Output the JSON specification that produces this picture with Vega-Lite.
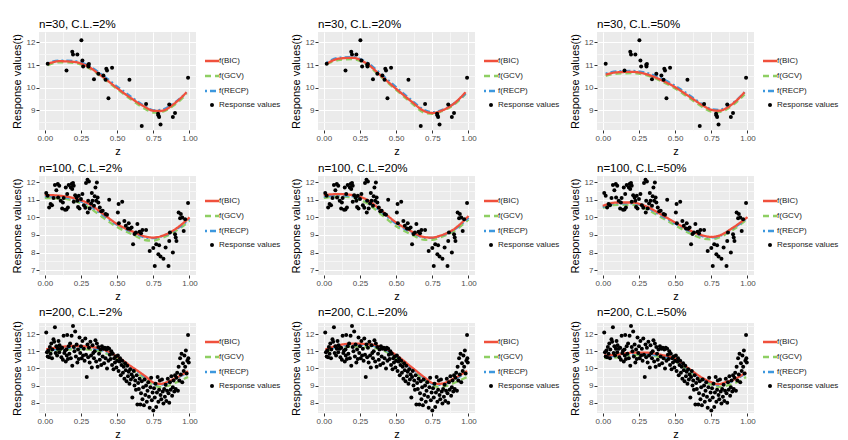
{
"$schema":"https://vega.github.io/schema/vega-lite/v6.json",
"padding":{"left":11,"top":18,"right":0,"bottom":0},
"background":"white",
"datasets":{
"pts":[
{"n":30,"z":0.02,"y":11.06},{"n":30,"z":0.253,"y":12.09},{"n":30,"z":0.19,"y":11.59},{"n":30,"z":0.195,"y":11.47},{"n":30,"z":0.225,"y":11.47},{"n":30,"z":0.26,"y":11.2},{"n":30,"z":0.15,"y":10.76},{"n":30,"z":0.265,"y":10.94},{"n":30,"z":0.3,"y":11.01},{"n":30,"z":0.302,"y":10.94},{"n":30,"z":0.34,"y":10.37},{"n":30,"z":0.37,"y":10.62},{"n":30,"z":0.405,"y":10.54},{"n":30,"z":0.42,"y":10.35},{"n":30,"z":0.425,"y":10.84},{"n":30,"z":0.43,"y":10.76},{"n":30,"z":0.465,"y":10.88},{"n":30,"z":0.44,"y":9.53},{"n":30,"z":0.585,"y":10.35},{"n":30,"z":0.7,"y":9.28},{"n":30,"z":0.67,"y":8.31},{"n":30,"z":0.785,"y":8.78},{"n":30,"z":0.79,"y":8.7},{"n":30,"z":0.783,"y":8.85},{"n":30,"z":0.8,"y":8.37},{"n":30,"z":0.86,"y":9.26},{"n":30,"z":0.885,"y":8.7},{"n":30,"z":0.9,"y":8.88},{"n":30,"z":0.99,"y":10.44},{"n":30,"z":0.305,"y":11.05},
{"n":100,"z":0.01,"y":11.39},{"n":100,"z":0.02,"y":11.24},{"n":100,"z":0.03,"y":10.57},{"n":100,"z":0.04,"y":10.76},{"n":100,"z":0.07,"y":11.85},{"n":100,"z":0.09,"y":11.9},{"n":100,"z":0.1,"y":11.81},{"n":100,"z":0.092,"y":11.14},{"n":100,"z":0.11,"y":10.95},{"n":100,"z":0.12,"y":10.51},{"n":100,"z":0.125,"y":10.85},{"n":100,"z":0.145,"y":11.71},{"n":100,"z":0.155,"y":11.33},{"n":100,"z":0.16,"y":10.57},{"n":100,"z":0.14,"y":10.44},{"n":100,"z":0.165,"y":11.85},{"n":100,"z":0.18,"y":11.71},{"n":100,"z":0.185,"y":11.9},{"n":100,"z":0.195,"y":11.96},{"n":100,"z":0.2,"y":11.81},{"n":100,"z":0.19,"y":11.62},{"n":100,"z":0.21,"y":11.27},{"n":100,"z":0.22,"y":11.14},{"n":100,"z":0.235,"y":11.24},{"n":100,"z":0.24,"y":10.51},{"n":100,"z":0.225,"y":10.95},{"n":100,"z":0.26,"y":11.33},{"n":100,"z":0.27,"y":10.7},{"n":100,"z":0.285,"y":11.96},{"n":100,"z":0.295,"y":12.15},{"n":100,"z":0.305,"y":12.04},{"n":100,"z":0.3,"y":10.95},{"n":100,"z":0.31,"y":10.51},{"n":100,"z":0.297,"y":10.28},{"n":100,"z":0.325,"y":11.39},{"n":100,"z":0.33,"y":10.95},{"n":100,"z":0.34,"y":10.66},{"n":100,"z":0.35,"y":11.71},{"n":100,"z":0.36,"y":11.99},{"n":100,"z":0.365,"y":11.14},{"n":100,"z":0.37,"y":10.85},{"n":100,"z":0.38,"y":10.57},{"n":100,"z":0.4,"y":10.38},{"n":100,"z":0.42,"y":10.19},{"n":100,"z":0.445,"y":11.01},{"n":100,"z":0.51,"y":10.76},{"n":100,"z":0.535,"y":10.9},{"n":100,"z":0.505,"y":10.28},{"n":100,"z":0.512,"y":9.67},{"n":100,"z":0.56,"y":9.52},{"n":100,"z":0.575,"y":9.37},{"n":100,"z":0.58,"y":9.67},{"n":100,"z":0.6,"y":9.42},{"n":100,"z":0.61,"y":8.47},{"n":100,"z":0.63,"y":9.14},{"n":100,"z":0.64,"y":9.62},{"n":100,"z":0.655,"y":9.18},{"n":100,"z":0.665,"y":9.1},{"n":100,"z":0.675,"y":9.29},{"n":100,"z":0.7,"y":9.29},{"n":100,"z":0.725,"y":8.09},{"n":100,"z":0.75,"y":8.26},{"n":100,"z":0.76,"y":7.23},{"n":100,"z":0.77,"y":8.47},{"n":100,"z":0.785,"y":7.9},{"n":100,"z":0.79,"y":8.42},{"n":100,"z":0.8,"y":7.78},{"n":100,"z":0.82,"y":7.65},{"n":100,"z":0.835,"y":8.28},{"n":100,"z":0.855,"y":7.23},{"n":100,"z":0.86,"y":8.66},{"n":100,"z":0.865,"y":9.14},{"n":100,"z":0.885,"y":8.0},{"n":100,"z":0.9,"y":9.04},{"n":100,"z":0.905,"y":8.85},{"n":100,"z":0.91,"y":8.66},{"n":100,"z":0.925,"y":10.28},{"n":100,"z":0.94,"y":10.19},{"n":100,"z":0.95,"y":10.0},{"n":100,"z":0.96,"y":9.23},{"n":100,"z":0.97,"y":9.9},{"n":100,"z":0.99,"y":10.82},{"n":100,"z":0.05,"y":10.7},{"n":100,"z":0.06,"y":11.1},{"n":100,"z":0.08,"y":11.55},{"n":100,"z":0.13,"y":11.1},{"n":100,"z":0.15,"y":10.45},{"n":100,"z":0.2,"y":10.9},{"n":100,"z":0.23,"y":10.6},{"n":100,"z":0.25,"y":11.05},{"n":100,"z":0.28,"y":10.55},{"n":100,"z":0.32,"y":10.8},{"n":100,"z":0.345,"y":11.2},{"n":100,"z":0.355,"y":10.95},{"n":100,"z":0.39,"y":10.35},{"n":100,"z":0.43,"y":10.15},{"n":100,"z":0.55,"y":9.8},{"n":100,"z":0.59,"y":9.35},{"n":100,"z":0.62,"y":9.05},{"n":100,"z":0.935,"y":9.95},
{"n":200,"z":0.01,"y":12.1},{"n":200,"z":0.015,"y":10.95},{"n":200,"z":0.02,"y":10.7},{"n":200,"z":0.025,"y":11.05},{"n":200,"z":0.03,"y":10.65},{"n":200,"z":0.035,"y":11.25},{"n":200,"z":0.04,"y":10.85},{"n":200,"z":0.045,"y":11.45},{"n":200,"z":0.05,"y":10.6},{"n":200,"z":0.052,"y":11.1},
{"n":200,"z":0.06,"y":11.7},{"n":200,"z":0.065,"y":11.55},{"n":200,"z":0.07,"y":12.4},{"n":200,"z":0.075,"y":10.9},{"n":200,"z":0.08,"y":11.3},{"n":200,"z":0.085,"y":10.75},{"n":200,"z":0.09,"y":11.15},{"n":200,"z":0.095,"y":11.6},{"n":200,"z":0.1,"y":10.95},{"n":200,"z":0.102,"y":11.35},
{"n":200,"z":0.11,"y":11.15},{"n":200,"z":0.115,"y":10.65},{"n":200,"z":0.12,"y":11.2},{"n":200,"z":0.125,"y":10.5},{"n":200,"z":0.13,"y":11.9},{"n":200,"z":0.135,"y":10.9},{"n":200,"z":0.14,"y":11.05},{"n":200,"z":0.145,"y":10.4},{"n":200,"z":0.15,"y":11.1},{"n":200,"z":0.152,"y":10.75},
{"n":200,"z":0.155,"y":11.95},{"n":200,"z":0.16,"y":10.55},{"n":200,"z":0.165,"y":11.3},{"n":200,"z":0.17,"y":10.85},{"n":200,"z":0.175,"y":11.45},{"n":200,"z":0.18,"y":10.6},{"n":200,"z":0.185,"y":11.9},{"n":200,"z":0.19,"y":10.15},{"n":200,"z":0.195,"y":12.48},{"n":200,"z":0.2,"y":11.25},
{"n":200,"z":0.205,"y":11.0},{"n":200,"z":0.21,"y":12.15},{"n":200,"z":0.215,"y":10.7},{"n":200,"z":0.22,"y":11.4},{"n":200,"z":0.225,"y":10.35},{"n":200,"z":0.23,"y":11.1},{"n":200,"z":0.235,"y":10.55},{"n":200,"z":0.24,"y":11.8},{"n":200,"z":0.245,"y":10.9},{"n":200,"z":0.25,"y":11.3},
{"n":200,"z":0.255,"y":10.6},{"n":200,"z":0.26,"y":11.6},{"n":200,"z":0.265,"y":10.75},{"n":200,"z":0.27,"y":11.15},{"n":200,"z":0.275,"y":10.45},{"n":200,"z":0.28,"y":11.75},{"n":200,"z":0.285,"y":10.8},{"n":200,"z":0.29,"y":9.5},{"n":200,"z":0.295,"y":11.4},{"n":200,"z":0.3,"y":10.65},
{"n":200,"z":0.305,"y":11.2},{"n":200,"z":0.31,"y":10.35},{"n":200,"z":0.315,"y":11.55},{"n":200,"z":0.32,"y":10.75},{"n":200,"z":0.325,"y":10.05},{"n":200,"z":0.33,"y":11.35},{"n":200,"z":0.335,"y":10.9},{"n":200,"z":0.34,"y":10.6},{"n":200,"z":0.345,"y":11.0},{"n":200,"z":0.35,"y":11.65},
{"n":200,"z":0.355,"y":10.4},{"n":200,"z":0.36,"y":11.45},{"n":200,"z":0.365,"y":10.1},{"n":200,"z":0.37,"y":11.25},{"n":200,"z":0.375,"y":10.85},{"n":200,"z":0.38,"y":10.5},{"n":200,"z":0.385,"y":11.1},{"n":200,"z":0.39,"y":10.2},{"n":200,"z":0.395,"y":11.3},{"n":200,"z":0.4,"y":10.7},
{"n":200,"z":0.405,"y":11.15},{"n":200,"z":0.41,"y":10.3},{"n":200,"z":0.415,"y":11.2},{"n":200,"z":0.42,"y":10.6},{"n":200,"z":0.425,"y":11.1},{"n":200,"z":0.43,"y":10.0},{"n":200,"z":0.435,"y":11.2},{"n":200,"z":0.44,"y":10.45},{"n":200,"z":0.445,"y":11.15},{"n":200,"z":0.45,"y":10.8},
{"n":200,"z":0.455,"y":10.55},{"n":200,"z":0.46,"y":11.0},{"n":200,"z":0.465,"y":10.2},{"n":200,"z":0.47,"y":10.85},{"n":200,"z":0.475,"y":9.95},{"n":200,"z":0.48,"y":10.6},{"n":200,"z":0.485,"y":10.35},{"n":200,"z":0.49,"y":10.7},{"n":200,"z":0.495,"y":10.05},{"n":200,"z":0.5,"y":10.45},
{"n":200,"z":0.505,"y":10.75},{"n":200,"z":0.51,"y":9.85},{"n":200,"z":0.515,"y":10.4},{"n":200,"z":0.52,"y":10.6},{"n":200,"z":0.525,"y":9.6},{"n":200,"z":0.53,"y":10.2},{"n":200,"z":0.535,"y":10.45},{"n":200,"z":0.54,"y":9.75},{"n":200,"z":0.545,"y":10.1},{"n":200,"z":0.55,"y":9.4},
{"n":200,"z":0.555,"y":10.3},{"n":200,"z":0.56,"y":9.9},{"n":200,"z":0.565,"y":9.25},{"n":200,"z":0.57,"y":10.15},{"n":200,"z":0.575,"y":9.55},{"n":200,"z":0.58,"y":9.8},{"n":200,"z":0.585,"y":9.1},{"n":200,"z":0.59,"y":9.95},{"n":200,"z":0.595,"y":9.35},{"n":200,"z":0.6,"y":9.65},
{"n":200,"z":0.605,"y":8.3},{"n":200,"z":0.61,"y":9.5},{"n":200,"z":0.615,"y":9.85},{"n":200,"z":0.62,"y":9.0},{"n":200,"z":0.625,"y":9.3},{"n":200,"z":0.63,"y":8.75},{"n":200,"z":0.635,"y":9.6},{"n":200,"z":0.64,"y":7.9},{"n":200,"z":0.645,"y":9.15},{"n":200,"z":0.65,"y":8.8},
{"n":200,"z":0.655,"y":9.4},{"n":200,"z":0.66,"y":7.9},{"n":200,"z":0.665,"y":8.55},{"n":200,"z":0.67,"y":9.25},{"n":200,"z":0.675,"y":8.2},{"n":200,"z":0.68,"y":8.9},{"n":200,"z":0.685,"y":7.85},{"n":200,"z":0.69,"y":9.35},{"n":200,"z":0.695,"y":8.45},{"n":200,"z":0.7,"y":9.0},
{"n":200,"z":0.705,"y":8.05},{"n":200,"z":0.71,"y":8.7},{"n":200,"z":0.715,"y":9.2},{"n":200,"z":0.72,"y":8.35},{"n":200,"z":0.725,"y":7.7},{"n":200,"z":0.73,"y":8.9},{"n":200,"z":0.735,"y":9.45},{"n":200,"z":0.74,"y":8.15},{"n":200,"z":0.745,"y":8.6},{"n":200,"z":0.75,"y":7.55},
{"n":200,"z":0.755,"y":8.85},{"n":200,"z":0.76,"y":8.3},{"n":200,"z":0.765,"y":9.1},{"n":200,"z":0.77,"y":7.75},{"n":200,"z":0.775,"y":8.6},{"n":200,"z":0.78,"y":9.5},{"n":200,"z":0.785,"y":8.05},{"n":200,"z":0.79,"y":8.75},{"n":200,"z":0.795,"y":9.3},{"n":200,"z":0.8,"y":8.45},
{"n":200,"z":0.805,"y":8.2},{"n":200,"z":0.81,"y":9.35},{"n":200,"z":0.815,"y":8.65},{"n":200,"z":0.82,"y":7.95},{"n":200,"z":0.825,"y":8.8},{"n":200,"z":0.83,"y":8.35},{"n":200,"z":0.835,"y":9.05},{"n":200,"z":0.84,"y":8.1},{"n":200,"z":0.845,"y":8.7},{"n":200,"z":0.85,"y":9.4},
{"n":200,"z":0.855,"y":8.55},{"n":200,"z":0.86,"y":8.0},{"n":200,"z":0.865,"y":9.2},{"n":200,"z":0.87,"y":8.75},{"n":200,"z":0.875,"y":9.55},{"n":200,"z":0.88,"y":8.4},{"n":200,"z":0.885,"y":8.9},{"n":200,"z":0.89,"y":9.3},{"n":200,"z":0.895,"y":8.65},{"n":200,"z":0.9,"y":9.6},
{"n":200,"z":0.905,"y":8.8},{"n":200,"z":0.91,"y":9.45},{"n":200,"z":0.915,"y":9.75},{"n":200,"z":0.92,"y":8.7},{"n":200,"z":0.925,"y":10.1},{"n":200,"z":0.93,"y":9.3},{"n":200,"z":0.935,"y":10.6},{"n":200,"z":0.94,"y":9.65},{"n":200,"z":0.945,"y":10.85},{"n":200,"z":0.95,"y":9.2},
{"n":200,"z":0.955,"y":10.3},{"n":200,"z":0.96,"y":9.85},{"n":200,"z":0.965,"y":10.75},{"n":200,"z":0.97,"y":10.1},{"n":200,"z":0.975,"y":11.05},{"n":200,"z":0.98,"y":9.7},{"n":200,"z":0.985,"y":10.45},{"n":200,"z":0.99,"y":11.95},{"n":200,"z":0.992,"y":10.6},{"n":200,"z":0.995,"y":10.35}
],
"fits":[
{"p":"a","z":0.02,"f(BIC)":11.05,"f(GCV)":11.0,"f(RECP)":11.08},{"p":"a","z":0.1,"f(BIC)":11.17,"f(GCV)":11.12,"f(RECP)":11.2},{"p":"a","z":0.2,"f(BIC)":11.14,"f(GCV)":11.1,"f(RECP)":11.18},{"p":"a","z":0.3,"f(BIC)":10.93,"f(GCV)":10.88,"f(RECP)":10.98},{"p":"a","z":0.4,"f(BIC)":10.48,"f(GCV)":10.44,"f(RECP)":10.55},{"p":"a","z":0.5,"f(BIC)":9.98,"f(GCV)":9.94,"f(RECP)":10.05},{"p":"a","z":0.6,"f(BIC)":9.52,"f(GCV)":9.46,"f(RECP)":9.58},{"p":"a","z":0.7,"f(BIC)":9.12,"f(GCV)":9.04,"f(RECP)":9.15},{"p":"a","z":0.75,"f(BIC)":8.98,"f(GCV)":8.9,"f(RECP)":9.0},{"p":"a","z":0.8,"f(BIC)":8.97,"f(GCV)":8.92,"f(RECP)":9.02},{"p":"a","z":0.9,"f(BIC)":9.32,"f(GCV)":9.25,"f(RECP)":9.35},{"p":"a","z":0.98,"f(BIC)":9.8,"f(GCV)":9.72,"f(RECP)":9.78},
{"p":"b","z":0.02,"f(BIC)":11.05,"f(GCV)":11.05,"f(RECP)":11.1},{"p":"b","z":0.1,"f(BIC)":11.28,"f(GCV)":11.22,"f(RECP)":11.32},{"p":"b","z":0.2,"f(BIC)":11.32,"f(GCV)":11.26,"f(RECP)":11.35},{"p":"b","z":0.3,"f(BIC)":11.05,"f(GCV)":11.0,"f(RECP)":11.1},{"p":"b","z":0.4,"f(BIC)":10.5,"f(GCV)":10.45,"f(RECP)":10.58},{"p":"b","z":0.5,"f(BIC)":9.95,"f(GCV)":9.9,"f(RECP)":10.02},{"p":"b","z":0.6,"f(BIC)":9.42,"f(GCV)":9.36,"f(RECP)":9.48},{"p":"b","z":0.7,"f(BIC)":8.95,"f(GCV)":8.88,"f(RECP)":9.0},{"p":"b","z":0.75,"f(BIC)":8.88,"f(GCV)":8.84,"f(RECP)":8.92},{"p":"b","z":0.8,"f(BIC)":8.95,"f(GCV)":8.92,"f(RECP)":8.98},{"p":"b","z":0.9,"f(BIC)":9.3,"f(GCV)":9.25,"f(RECP)":9.3},{"p":"b","z":0.98,"f(BIC)":9.8,"f(GCV)":9.72,"f(RECP)":9.75},
{"p":"c","z":0.02,"f(BIC)":10.58,"f(GCV)":10.52,"f(RECP)":10.62},{"p":"c","z":0.1,"f(BIC)":10.68,"f(GCV)":10.62,"f(RECP)":10.72},{"p":"c","z":0.2,"f(BIC)":10.7,"f(GCV)":10.64,"f(RECP)":10.74},{"p":"c","z":0.3,"f(BIC)":10.6,"f(GCV)":10.55,"f(RECP)":10.66},{"p":"c","z":0.4,"f(BIC)":10.35,"f(GCV)":10.3,"f(RECP)":10.42},{"p":"c","z":0.5,"f(BIC)":10.02,"f(GCV)":9.96,"f(RECP)":10.08},{"p":"c","z":0.6,"f(BIC)":9.6,"f(GCV)":9.53,"f(RECP)":9.66},{"p":"c","z":0.7,"f(BIC)":9.18,"f(GCV)":9.1,"f(RECP)":9.22},{"p":"c","z":0.75,"f(BIC)":9.02,"f(GCV)":8.94,"f(RECP)":9.05},{"p":"c","z":0.8,"f(BIC)":8.98,"f(GCV)":8.92,"f(RECP)":9.02},{"p":"c","z":0.9,"f(BIC)":9.3,"f(GCV)":9.24,"f(RECP)":9.32},{"p":"c","z":0.98,"f(BIC)":9.8,"f(GCV)":9.7,"f(RECP)":9.8},
{"p":"d","z":0.0,"f(BIC)":11.28,"f(GCV)":11.1,"f(RECP)":11.2},{"p":"d","z":0.1,"f(BIC)":11.24,"f(GCV)":11.08,"f(RECP)":11.18},{"p":"d","z":0.2,"f(BIC)":11.1,"f(GCV)":10.95,"f(RECP)":11.05},{"p":"d","z":0.3,"f(BIC)":10.8,"f(GCV)":10.6,"f(RECP)":10.72},{"p":"d","z":0.4,"f(BIC)":10.22,"f(GCV)":10.0,"f(RECP)":10.15},{"p":"d","z":0.5,"f(BIC)":9.62,"f(GCV)":9.45,"f(RECP)":9.58},{"p":"d","z":0.6,"f(BIC)":9.22,"f(GCV)":9.05,"f(RECP)":9.18},{"p":"d","z":0.7,"f(BIC)":8.9,"f(GCV)":8.7,"f(RECP)":8.85},{"p":"d","z":0.75,"f(BIC)":8.85,"f(GCV)":8.68,"f(RECP)":8.82},{"p":"d","z":0.8,"f(BIC)":8.92,"f(GCV)":8.8,"f(RECP)":8.9},{"p":"d","z":0.9,"f(BIC)":9.32,"f(GCV)":9.2,"f(RECP)":9.28},{"p":"d","z":1.0,"f(BIC)":10.0,"f(GCV)":9.8,"f(RECP)":9.9},
{"p":"e","z":0.0,"f(BIC)":11.27,"f(GCV)":11.1,"f(RECP)":11.18},{"p":"e","z":0.1,"f(BIC)":11.33,"f(GCV)":11.2,"f(RECP)":11.26},{"p":"e","z":0.2,"f(BIC)":11.27,"f(GCV)":11.12,"f(RECP)":11.2},{"p":"e","z":0.3,"f(BIC)":11.0,"f(GCV)":10.8,"f(RECP)":10.92},{"p":"e","z":0.4,"f(BIC)":10.38,"f(GCV)":10.15,"f(RECP)":10.3},{"p":"e","z":0.5,"f(BIC)":9.71,"f(GCV)":9.5,"f(RECP)":9.64},{"p":"e","z":0.6,"f(BIC)":9.23,"f(GCV)":9.05,"f(RECP)":9.18},{"p":"e","z":0.7,"f(BIC)":8.87,"f(GCV)":8.72,"f(RECP)":8.84},{"p":"e","z":0.75,"f(BIC)":8.85,"f(GCV)":8.72,"f(RECP)":8.83},{"p":"e","z":0.8,"f(BIC)":8.95,"f(GCV)":8.85,"f(RECP)":8.93},{"p":"e","z":0.9,"f(BIC)":9.33,"f(GCV)":9.22,"f(RECP)":9.3},{"p":"e","z":1.0,"f(BIC)":10.08,"f(GCV)":9.88,"f(RECP)":9.98},
{"p":"f","z":0.0,"f(BIC)":10.66,"f(GCV)":10.55,"f(RECP)":10.6},{"p":"f","z":0.1,"f(BIC)":10.85,"f(GCV)":10.72,"f(RECP)":10.8},{"p":"f","z":0.2,"f(BIC)":10.85,"f(GCV)":10.72,"f(RECP)":10.8},{"p":"f","z":0.3,"f(BIC)":10.63,"f(GCV)":10.48,"f(RECP)":10.58},{"p":"f","z":0.4,"f(BIC)":10.19,"f(GCV)":10.02,"f(RECP)":10.12},{"p":"f","z":0.5,"f(BIC)":9.71,"f(GCV)":9.55,"f(RECP)":9.65},{"p":"f","z":0.6,"f(BIC)":9.27,"f(GCV)":9.1,"f(RECP)":9.22},{"p":"f","z":0.7,"f(BIC)":8.95,"f(GCV)":8.78,"f(RECP)":8.9},{"p":"f","z":0.75,"f(BIC)":8.89,"f(GCV)":8.75,"f(RECP)":8.86},{"p":"f","z":0.8,"f(BIC)":8.95,"f(GCV)":8.85,"f(RECP)":8.93},{"p":"f","z":0.9,"f(BIC)":9.42,"f(GCV)":9.3,"f(RECP)":9.38},{"p":"f","z":1.0,"f(BIC)":10.02,"f(GCV)":9.9,"f(RECP)":9.98},
{"p":"g","z":0.01,"f(BIC)":11.12,"f(GCV)":10.9,"f(RECP)":11.0},{"p":"g","z":0.1,"f(BIC)":11.24,"f(GCV)":11.05,"f(RECP)":11.15},{"p":"g","z":0.2,"f(BIC)":11.31,"f(GCV)":11.12,"f(RECP)":11.22},{"p":"g","z":0.3,"f(BIC)":11.27,"f(GCV)":11.1,"f(RECP)":11.2},{"p":"g","z":0.4,"f(BIC)":11.12,"f(GCV)":10.95,"f(RECP)":11.05},{"p":"g","z":0.5,"f(BIC)":10.69,"f(GCV)":10.55,"f(RECP)":10.65},{"p":"g","z":0.6,"f(BIC)":10.1,"f(GCV)":9.95,"f(RECP)":10.05},{"p":"g","z":0.7,"f(BIC)":9.51,"f(GCV)":9.35,"f(RECP)":9.45},{"p":"g","z":0.75,"f(BIC)":9.18,"f(GCV)":9.02,"f(RECP)":9.12},{"p":"g","z":0.8,"f(BIC)":9.1,"f(GCV)":8.92,"f(RECP)":9.05},{"p":"g","z":0.85,"f(BIC)":9.22,"f(GCV)":8.98,"f(RECP)":9.15},{"p":"g","z":0.9,"f(BIC)":9.42,"f(GCV)":9.15,"f(RECP)":9.38},{"p":"g","z":0.99,"f(BIC)":9.84,"f(GCV)":9.5,"f(RECP)":9.75},
{"p":"h","z":0.01,"f(BIC)":11.1,"f(GCV)":10.95,"f(RECP)":11.02},{"p":"h","z":0.1,"f(BIC)":11.35,"f(GCV)":11.2,"f(RECP)":11.28},{"p":"h","z":0.2,"f(BIC)":11.45,"f(GCV)":11.28,"f(RECP)":11.38},{"p":"h","z":0.3,"f(BIC)":11.42,"f(GCV)":11.25,"f(RECP)":11.35},{"p":"h","z":0.4,"f(BIC)":11.25,"f(GCV)":11.08,"f(RECP)":11.18},{"p":"h","z":0.5,"f(BIC)":10.78,"f(GCV)":10.62,"f(RECP)":10.72},{"p":"h","z":0.6,"f(BIC)":10.12,"f(GCV)":9.98,"f(RECP)":10.06},{"p":"h","z":0.7,"f(BIC)":9.45,"f(GCV)":9.3,"f(RECP)":9.4},{"p":"h","z":0.75,"f(BIC)":9.15,"f(GCV)":9.0,"f(RECP)":9.1},{"p":"h","z":0.8,"f(BIC)":9.1,"f(GCV)":8.92,"f(RECP)":9.04},{"p":"h","z":0.85,"f(BIC)":9.2,"f(GCV)":8.98,"f(RECP)":9.14},{"p":"h","z":0.9,"f(BIC)":9.42,"f(GCV)":9.15,"f(RECP)":9.36},{"p":"h","z":0.99,"f(BIC)":9.85,"f(GCV)":9.5,"f(RECP)":9.75},
{"p":"i","z":0.01,"f(BIC)":10.76,"f(GCV)":10.6,"f(RECP)":10.7},{"p":"i","z":0.1,"f(BIC)":10.8,"f(GCV)":10.65,"f(RECP)":10.72},{"p":"i","z":0.2,"f(BIC)":10.92,"f(GCV)":10.78,"f(RECP)":10.85},{"p":"i","z":0.3,"f(BIC)":10.92,"f(GCV)":10.78,"f(RECP)":10.85},{"p":"i","z":0.4,"f(BIC)":10.8,"f(GCV)":10.65,"f(RECP)":10.72},{"p":"i","z":0.5,"f(BIC)":10.57,"f(GCV)":10.42,"f(RECP)":10.5},{"p":"i","z":0.6,"f(BIC)":9.96,"f(GCV)":9.82,"f(RECP)":9.9},{"p":"i","z":0.7,"f(BIC)":9.39,"f(GCV)":9.25,"f(RECP)":9.33},{"p":"i","z":0.75,"f(BIC)":9.2,"f(GCV)":9.05,"f(RECP)":9.15},{"p":"i","z":0.8,"f(BIC)":9.08,"f(GCV)":8.92,"f(RECP)":9.03},{"p":"i","z":0.85,"f(BIC)":9.2,"f(GCV)":8.98,"f(RECP)":9.13},{"p":"i","z":0.9,"f(BIC)":9.33,"f(GCV)":9.1,"f(RECP)":9.28},{"p":"i","z":0.99,"f(BIC)":9.78,"f(GCV)":9.5,"f(RECP)":9.72}
]
},
"spacing":6,
"vconcat":[
{"spacing":9,"hconcat":[
{"title":"n=30, C.L.=2%","width":157,"height":98,
"encoding":{"x":{"field":"z","type":"quantitative","scale":{"domain":[-0.04,1.045],"nice":false},"axis":{"title":"z","grid":true,"labelOverlap":false,"values":[0,0.125,0.25,0.375,0.5,0.625,0.75,0.875,1],"labelExpr":"datum.value % 0.25 === 0 ? format(datum.value,'.2f') : ''","tickOpacity":{"condition":{"test":"datum.value % 0.25 !== 0","value":0},"value":1},"gridColor":{"condition":{"test":"datum.value % 0.25 !== 0","value":"#F6F6F6"},"value":"#FFFFFF"}}},"y":{"field":"y","type":"quantitative","scale":{"domain":[8.13,12.46],"nice":false,"zero":false},"axis":{"title":"Response values(t)","grid":true,"labelOverlap":false,"values":[8.5,9,9.5,10,10.5,11,11.5,12],"labelExpr":"datum.value % 1 === 0 ? format(datum.value,'d') : ''","tickOpacity":{"condition":{"test":"datum.value % 1 !== 0","value":0},"value":1},"gridColor":{"condition":{"test":"datum.value % 1 !== 0","value":"#F6F6F6"},"value":"#FFFFFF"}}}},
"layer":[
{"data":{"name":"fits"},"transform":[{"filter":"datum.p==='a'"},{"fold":["f(GCV)","f(RECP)","f(BIC)"],"as":["curve","y"]}],"mark":{"type":"line","interpolate":"monotone","strokeWidth":2.3},"encoding":{"color":{"field":"curve","type":"nominal","scale":{"domain":["f(BIC)","f(GCV)","f(RECP)","Response values"],"range":["#F0503C","#8ECF63","#3D98DE","#000000"]},"legend":{"orient":"none","legendX":169,"legendY":25,"symbolType":"stroke","encode":{"symbols":{"update":{"shape":{"signal":"datum.value === 'Response values' ? 'circle' : 'stroke'"},"size":{"signal":"datum.value === 'Response values' ? 16 : 196"},"fill":{"signal":"datum.value === 'Response values' ? '#000000' : 'transparent'"},"strokeWidth":{"signal":"datum.value === 'Response values' ? 0 : 2.3"},"strokeDash":{"signal":"datum.value === 'f(GCV)' ? [6,4] : datum.value === 'f(RECP)' ? [2,3,6,3] : [1,0]"}}}}}},"strokeDash":{"field":"curve","type":"nominal","scale":{"domain":["f(BIC)","f(GCV)","f(RECP)"],"range":[[1,0],[6,4],[2,3,6,3]]},"legend":null}}},
{"data":{"name":"pts"},"transform":[{"filter":"datum.n===30"}],"mark":{"type":"circle","size":16,"opacity":1},"encoding":{"color":{"datum":"Response values"}}}
]},
{"title":"n=30, C.L.=20%","width":157,"height":98,
"encoding":{"x":{"field":"z","type":"quantitative","scale":{"domain":[-0.04,1.045],"nice":false},"axis":{"title":"z","grid":true,"labelOverlap":false,"values":[0,0.125,0.25,0.375,0.5,0.625,0.75,0.875,1],"labelExpr":"datum.value % 0.25 === 0 ? format(datum.value,'.2f') : ''","tickOpacity":{"condition":{"test":"datum.value % 0.25 !== 0","value":0},"value":1},"gridColor":{"condition":{"test":"datum.value % 0.25 !== 0","value":"#F6F6F6"},"value":"#FFFFFF"}}},"y":{"field":"y","type":"quantitative","scale":{"domain":[8.13,12.46],"nice":false,"zero":false},"axis":{"title":"Response values(t)","grid":true,"labelOverlap":false,"values":[8.5,9,9.5,10,10.5,11,11.5,12],"labelExpr":"datum.value % 1 === 0 ? format(datum.value,'d') : ''","tickOpacity":{"condition":{"test":"datum.value % 1 !== 0","value":0},"value":1},"gridColor":{"condition":{"test":"datum.value % 1 !== 0","value":"#F6F6F6"},"value":"#FFFFFF"}}}},
"layer":[
{"data":{"name":"fits"},"transform":[{"filter":"datum.p==='b'"},{"fold":["f(GCV)","f(RECP)","f(BIC)"],"as":["curve","y"]}],"mark":{"type":"line","interpolate":"monotone","strokeWidth":2.3},"encoding":{"color":{"field":"curve","type":"nominal","scale":{"domain":["f(BIC)","f(GCV)","f(RECP)","Response values"],"range":["#F0503C","#8ECF63","#3D98DE","#000000"]},"legend":{"orient":"none","legendX":169,"legendY":25,"symbolType":"stroke","encode":{"symbols":{"update":{"shape":{"signal":"datum.value === 'Response values' ? 'circle' : 'stroke'"},"size":{"signal":"datum.value === 'Response values' ? 16 : 196"},"fill":{"signal":"datum.value === 'Response values' ? '#000000' : 'transparent'"},"strokeWidth":{"signal":"datum.value === 'Response values' ? 0 : 2.3"},"strokeDash":{"signal":"datum.value === 'f(GCV)' ? [6,4] : datum.value === 'f(RECP)' ? [2,3,6,3] : [1,0]"}}}}}},"strokeDash":{"field":"curve","type":"nominal","scale":{"domain":["f(BIC)","f(GCV)","f(RECP)"],"range":[[1,0],[6,4],[2,3,6,3]]},"legend":null}}},
{"data":{"name":"pts"},"transform":[{"filter":"datum.n===30"}],"mark":{"type":"circle","size":16,"opacity":1},"encoding":{"color":{"datum":"Response values"}}}
]},
{"title":"n=30, C.L.=50%","width":157,"height":98,
"encoding":{"x":{"field":"z","type":"quantitative","scale":{"domain":[-0.04,1.045],"nice":false},"axis":{"title":"z","grid":true,"labelOverlap":false,"values":[0,0.125,0.25,0.375,0.5,0.625,0.75,0.875,1],"labelExpr":"datum.value % 0.25 === 0 ? format(datum.value,'.2f') : ''","tickOpacity":{"condition":{"test":"datum.value % 0.25 !== 0","value":0},"value":1},"gridColor":{"condition":{"test":"datum.value % 0.25 !== 0","value":"#F6F6F6"},"value":"#FFFFFF"}}},"y":{"field":"y","type":"quantitative","scale":{"domain":[8.13,12.46],"nice":false,"zero":false},"axis":{"title":"Response values(t)","grid":true,"labelOverlap":false,"values":[8.5,9,9.5,10,10.5,11,11.5,12],"labelExpr":"datum.value % 1 === 0 ? format(datum.value,'d') : ''","tickOpacity":{"condition":{"test":"datum.value % 1 !== 0","value":0},"value":1},"gridColor":{"condition":{"test":"datum.value % 1 !== 0","value":"#F6F6F6"},"value":"#FFFFFF"}}}},
"layer":[
{"data":{"name":"fits"},"transform":[{"filter":"datum.p==='c'"},{"fold":["f(GCV)","f(RECP)","f(BIC)"],"as":["curve","y"]}],"mark":{"type":"line","interpolate":"monotone","strokeWidth":2.3},"encoding":{"color":{"field":"curve","type":"nominal","scale":{"domain":["f(BIC)","f(GCV)","f(RECP)","Response values"],"range":["#F0503C","#8ECF63","#3D98DE","#000000"]},"legend":{"orient":"none","legendX":169,"legendY":25,"symbolType":"stroke","encode":{"symbols":{"update":{"shape":{"signal":"datum.value === 'Response values' ? 'circle' : 'stroke'"},"size":{"signal":"datum.value === 'Response values' ? 16 : 196"},"fill":{"signal":"datum.value === 'Response values' ? '#000000' : 'transparent'"},"strokeWidth":{"signal":"datum.value === 'Response values' ? 0 : 2.3"},"strokeDash":{"signal":"datum.value === 'f(GCV)' ? [6,4] : datum.value === 'f(RECP)' ? [2,3,6,3] : [1,0]"}}}}}},"strokeDash":{"field":"curve","type":"nominal","scale":{"domain":["f(BIC)","f(GCV)","f(RECP)"],"range":[[1,0],[6,4],[2,3,6,3]]},"legend":null}}},
{"data":{"name":"pts"},"transform":[{"filter":"datum.n===30"}],"mark":{"type":"circle","size":16,"opacity":1},"encoding":{"color":{"datum":"Response values"}}}
]}
],"resolve":{"scale":{"x":"independent","y":"independent","color":"independent","strokeDash":"independent"},"legend":{"color":"independent"}}},
{"spacing":9,"hconcat":[
{"title":"n=100, C.L.=2%","width":157,"height":99,
"encoding":{"x":{"field":"z","type":"quantitative","scale":{"domain":[-0.04,1.045],"nice":false},"axis":{"title":"z","grid":true,"labelOverlap":false,"values":[0,0.125,0.25,0.375,0.5,0.625,0.75,0.875,1],"labelExpr":"datum.value % 0.25 === 0 ? format(datum.value,'.2f') : ''","tickOpacity":{"condition":{"test":"datum.value % 0.25 !== 0","value":0},"value":1},"gridColor":{"condition":{"test":"datum.value % 0.25 !== 0","value":"#F6F6F6"},"value":"#FFFFFF"}}},"y":{"field":"y","type":"quantitative","scale":{"domain":[6.72,12.36],"nice":false,"zero":false},"axis":{"title":"Response values(t)","grid":true,"labelOverlap":false,"values":[7,7.5,8,8.5,9,9.5,10,10.5,11,11.5,12],"labelExpr":"datum.value % 1 === 0 ? format(datum.value,'d') : ''","tickOpacity":{"condition":{"test":"datum.value % 1 !== 0","value":0},"value":1},"gridColor":{"condition":{"test":"datum.value % 1 !== 0","value":"#F6F6F6"},"value":"#FFFFFF"}}}},
"layer":[
{"data":{"name":"fits"},"transform":[{"filter":"datum.p==='d'"},{"fold":["f(GCV)","f(RECP)","f(BIC)"],"as":["curve","y"]}],"mark":{"type":"line","interpolate":"monotone","strokeWidth":2.3},"encoding":{"color":{"field":"curve","type":"nominal","scale":{"domain":["f(BIC)","f(GCV)","f(RECP)","Response values"],"range":["#F0503C","#8ECF63","#3D98DE","#000000"]},"legend":{"orient":"none","legendX":169,"legendY":21,"symbolType":"stroke","encode":{"symbols":{"update":{"shape":{"signal":"datum.value === 'Response values' ? 'circle' : 'stroke'"},"size":{"signal":"datum.value === 'Response values' ? 16 : 196"},"fill":{"signal":"datum.value === 'Response values' ? '#000000' : 'transparent'"},"strokeWidth":{"signal":"datum.value === 'Response values' ? 0 : 2.3"},"strokeDash":{"signal":"datum.value === 'f(GCV)' ? [6,4] : datum.value === 'f(RECP)' ? [2,3,6,3] : [1,0]"}}}}}},"strokeDash":{"field":"curve","type":"nominal","scale":{"domain":["f(BIC)","f(GCV)","f(RECP)"],"range":[[1,0],[6,4],[2,3,6,3]]},"legend":null}}},
{"data":{"name":"pts"},"transform":[{"filter":"datum.n===100"}],"mark":{"type":"circle","size":16,"opacity":1},"encoding":{"color":{"datum":"Response values"}}}
]},
{"title":"n=100, C.L.=20%","width":157,"height":99,
"encoding":{"x":{"field":"z","type":"quantitative","scale":{"domain":[-0.04,1.045],"nice":false},"axis":{"title":"z","grid":true,"labelOverlap":false,"values":[0,0.125,0.25,0.375,0.5,0.625,0.75,0.875,1],"labelExpr":"datum.value % 0.25 === 0 ? format(datum.value,'.2f') : ''","tickOpacity":{"condition":{"test":"datum.value % 0.25 !== 0","value":0},"value":1},"gridColor":{"condition":{"test":"datum.value % 0.25 !== 0","value":"#F6F6F6"},"value":"#FFFFFF"}}},"y":{"field":"y","type":"quantitative","scale":{"domain":[6.72,12.36],"nice":false,"zero":false},"axis":{"title":"Response values(t)","grid":true,"labelOverlap":false,"values":[7,7.5,8,8.5,9,9.5,10,10.5,11,11.5,12],"labelExpr":"datum.value % 1 === 0 ? format(datum.value,'d') : ''","tickOpacity":{"condition":{"test":"datum.value % 1 !== 0","value":0},"value":1},"gridColor":{"condition":{"test":"datum.value % 1 !== 0","value":"#F6F6F6"},"value":"#FFFFFF"}}}},
"layer":[
{"data":{"name":"fits"},"transform":[{"filter":"datum.p==='e'"},{"fold":["f(GCV)","f(RECP)","f(BIC)"],"as":["curve","y"]}],"mark":{"type":"line","interpolate":"monotone","strokeWidth":2.3},"encoding":{"color":{"field":"curve","type":"nominal","scale":{"domain":["f(BIC)","f(GCV)","f(RECP)","Response values"],"range":["#F0503C","#8ECF63","#3D98DE","#000000"]},"legend":{"orient":"none","legendX":169,"legendY":21,"symbolType":"stroke","encode":{"symbols":{"update":{"shape":{"signal":"datum.value === 'Response values' ? 'circle' : 'stroke'"},"size":{"signal":"datum.value === 'Response values' ? 16 : 196"},"fill":{"signal":"datum.value === 'Response values' ? '#000000' : 'transparent'"},"strokeWidth":{"signal":"datum.value === 'Response values' ? 0 : 2.3"},"strokeDash":{"signal":"datum.value === 'f(GCV)' ? [6,4] : datum.value === 'f(RECP)' ? [2,3,6,3] : [1,0]"}}}}}},"strokeDash":{"field":"curve","type":"nominal","scale":{"domain":["f(BIC)","f(GCV)","f(RECP)"],"range":[[1,0],[6,4],[2,3,6,3]]},"legend":null}}},
{"data":{"name":"pts"},"transform":[{"filter":"datum.n===100"}],"mark":{"type":"circle","size":16,"opacity":1},"encoding":{"color":{"datum":"Response values"}}}
]},
{"title":"n=100, C.L.=50%","width":157,"height":99,
"encoding":{"x":{"field":"z","type":"quantitative","scale":{"domain":[-0.04,1.045],"nice":false},"axis":{"title":"z","grid":true,"labelOverlap":false,"values":[0,0.125,0.25,0.375,0.5,0.625,0.75,0.875,1],"labelExpr":"datum.value % 0.25 === 0 ? format(datum.value,'.2f') : ''","tickOpacity":{"condition":{"test":"datum.value % 0.25 !== 0","value":0},"value":1},"gridColor":{"condition":{"test":"datum.value % 0.25 !== 0","value":"#F6F6F6"},"value":"#FFFFFF"}}},"y":{"field":"y","type":"quantitative","scale":{"domain":[6.72,12.36],"nice":false,"zero":false},"axis":{"title":"Response values(t)","grid":true,"labelOverlap":false,"values":[7,7.5,8,8.5,9,9.5,10,10.5,11,11.5,12],"labelExpr":"datum.value % 1 === 0 ? format(datum.value,'d') : ''","tickOpacity":{"condition":{"test":"datum.value % 1 !== 0","value":0},"value":1},"gridColor":{"condition":{"test":"datum.value % 1 !== 0","value":"#F6F6F6"},"value":"#FFFFFF"}}}},
"layer":[
{"data":{"name":"fits"},"transform":[{"filter":"datum.p==='f'"},{"fold":["f(GCV)","f(RECP)","f(BIC)"],"as":["curve","y"]}],"mark":{"type":"line","interpolate":"monotone","strokeWidth":2.3},"encoding":{"color":{"field":"curve","type":"nominal","scale":{"domain":["f(BIC)","f(GCV)","f(RECP)","Response values"],"range":["#F0503C","#8ECF63","#3D98DE","#000000"]},"legend":{"orient":"none","legendX":169,"legendY":21,"symbolType":"stroke","encode":{"symbols":{"update":{"shape":{"signal":"datum.value === 'Response values' ? 'circle' : 'stroke'"},"size":{"signal":"datum.value === 'Response values' ? 16 : 196"},"fill":{"signal":"datum.value === 'Response values' ? '#000000' : 'transparent'"},"strokeWidth":{"signal":"datum.value === 'Response values' ? 0 : 2.3"},"strokeDash":{"signal":"datum.value === 'f(GCV)' ? [6,4] : datum.value === 'f(RECP)' ? [2,3,6,3] : [1,0]"}}}}}},"strokeDash":{"field":"curve","type":"nominal","scale":{"domain":["f(BIC)","f(GCV)","f(RECP)"],"range":[[1,0],[6,4],[2,3,6,3]]},"legend":null}}},
{"data":{"name":"pts"},"transform":[{"filter":"datum.n===100"}],"mark":{"type":"circle","size":16,"opacity":1},"encoding":{"color":{"datum":"Response values"}}}
]}
],"resolve":{"scale":{"x":"independent","y":"independent","color":"independent","strokeDash":"independent"},"legend":{"color":"independent"}}},
{"spacing":9,"hconcat":[
{"title":"n=200, C.L.=2%","width":157,"height":90,
"encoding":{"x":{"field":"z","type":"quantitative","scale":{"domain":[-0.04,1.045],"nice":false},"axis":{"title":"z","grid":true,"labelOverlap":false,"values":[0,0.125,0.25,0.375,0.5,0.625,0.75,0.875,1],"labelExpr":"datum.value % 0.25 === 0 ? format(datum.value,'.2f') : ''","tickOpacity":{"condition":{"test":"datum.value % 0.25 !== 0","value":0},"value":1},"gridColor":{"condition":{"test":"datum.value % 0.25 !== 0","value":"#F6F6F6"},"value":"#FFFFFF"}}},"y":{"field":"y","type":"quantitative","scale":{"domain":[7.4,12.65],"nice":false,"zero":false},"axis":{"title":"Response values(t)","grid":true,"labelOverlap":false,"values":[7.5,8,8.5,9,9.5,10,10.5,11,11.5,12,12.5],"labelExpr":"datum.value % 1 === 0 ? format(datum.value,'d') : ''","tickOpacity":{"condition":{"test":"datum.value % 1 !== 0","value":0},"value":1},"gridColor":{"condition":{"test":"datum.value % 1 !== 0","value":"#F6F6F6"},"value":"#FFFFFF"}}}},
"layer":[
{"data":{"name":"fits"},"transform":[{"filter":"datum.p==='g'"},{"fold":["f(GCV)","f(RECP)","f(BIC)"],"as":["curve","y"]}],"mark":{"type":"line","interpolate":"monotone","strokeWidth":2.3},"encoding":{"color":{"field":"curve","type":"nominal","scale":{"domain":["f(BIC)","f(GCV)","f(RECP)","Response values"],"range":["#F0503C","#8ECF63","#3D98DE","#000000"]},"legend":{"orient":"none","legendX":169,"legendY":15,"symbolType":"stroke","encode":{"symbols":{"update":{"shape":{"signal":"datum.value === 'Response values' ? 'circle' : 'stroke'"},"size":{"signal":"datum.value === 'Response values' ? 16 : 196"},"fill":{"signal":"datum.value === 'Response values' ? '#000000' : 'transparent'"},"strokeWidth":{"signal":"datum.value === 'Response values' ? 0 : 2.3"},"strokeDash":{"signal":"datum.value === 'f(GCV)' ? [6,4] : datum.value === 'f(RECP)' ? [2,3,6,3] : [1,0]"}}}}}},"strokeDash":{"field":"curve","type":"nominal","scale":{"domain":["f(BIC)","f(GCV)","f(RECP)"],"range":[[1,0],[6,4],[2,3,6,3]]},"legend":null}}},
{"data":{"name":"pts"},"transform":[{"filter":"datum.n===200"}],"mark":{"type":"circle","size":16,"opacity":1},"encoding":{"color":{"datum":"Response values"}}}
]},
{"title":"n=200, C.L.=20%","width":157,"height":90,
"encoding":{"x":{"field":"z","type":"quantitative","scale":{"domain":[-0.04,1.045],"nice":false},"axis":{"title":"z","grid":true,"labelOverlap":false,"values":[0,0.125,0.25,0.375,0.5,0.625,0.75,0.875,1],"labelExpr":"datum.value % 0.25 === 0 ? format(datum.value,'.2f') : ''","tickOpacity":{"condition":{"test":"datum.value % 0.25 !== 0","value":0},"value":1},"gridColor":{"condition":{"test":"datum.value % 0.25 !== 0","value":"#F6F6F6"},"value":"#FFFFFF"}}},"y":{"field":"y","type":"quantitative","scale":{"domain":[7.4,12.65],"nice":false,"zero":false},"axis":{"title":"Response values(t)","grid":true,"labelOverlap":false,"values":[7.5,8,8.5,9,9.5,10,10.5,11,11.5,12,12.5],"labelExpr":"datum.value % 1 === 0 ? format(datum.value,'d') : ''","tickOpacity":{"condition":{"test":"datum.value % 1 !== 0","value":0},"value":1},"gridColor":{"condition":{"test":"datum.value % 1 !== 0","value":"#F6F6F6"},"value":"#FFFFFF"}}}},
"layer":[
{"data":{"name":"fits"},"transform":[{"filter":"datum.p==='h'"},{"fold":["f(GCV)","f(RECP)","f(BIC)"],"as":["curve","y"]}],"mark":{"type":"line","interpolate":"monotone","strokeWidth":2.3},"encoding":{"color":{"field":"curve","type":"nominal","scale":{"domain":["f(BIC)","f(GCV)","f(RECP)","Response values"],"range":["#F0503C","#8ECF63","#3D98DE","#000000"]},"legend":{"orient":"none","legendX":169,"legendY":15,"symbolType":"stroke","encode":{"symbols":{"update":{"shape":{"signal":"datum.value === 'Response values' ? 'circle' : 'stroke'"},"size":{"signal":"datum.value === 'Response values' ? 16 : 196"},"fill":{"signal":"datum.value === 'Response values' ? '#000000' : 'transparent'"},"strokeWidth":{"signal":"datum.value === 'Response values' ? 0 : 2.3"},"strokeDash":{"signal":"datum.value === 'f(GCV)' ? [6,4] : datum.value === 'f(RECP)' ? [2,3,6,3] : [1,0]"}}}}}},"strokeDash":{"field":"curve","type":"nominal","scale":{"domain":["f(BIC)","f(GCV)","f(RECP)"],"range":[[1,0],[6,4],[2,3,6,3]]},"legend":null}}},
{"data":{"name":"pts"},"transform":[{"filter":"datum.n===200"}],"mark":{"type":"circle","size":16,"opacity":1},"encoding":{"color":{"datum":"Response values"}}}
]},
{"title":"n=200, C.L.=50%","width":157,"height":90,
"encoding":{"x":{"field":"z","type":"quantitative","scale":{"domain":[-0.04,1.045],"nice":false},"axis":{"title":"z","grid":true,"labelOverlap":false,"values":[0,0.125,0.25,0.375,0.5,0.625,0.75,0.875,1],"labelExpr":"datum.value % 0.25 === 0 ? format(datum.value,'.2f') : ''","tickOpacity":{"condition":{"test":"datum.value % 0.25 !== 0","value":0},"value":1},"gridColor":{"condition":{"test":"datum.value % 0.25 !== 0","value":"#F6F6F6"},"value":"#FFFFFF"}}},"y":{"field":"y","type":"quantitative","scale":{"domain":[7.4,12.65],"nice":false,"zero":false},"axis":{"title":"Response values(t)","grid":true,"labelOverlap":false,"values":[7.5,8,8.5,9,9.5,10,10.5,11,11.5,12,12.5],"labelExpr":"datum.value % 1 === 0 ? format(datum.value,'d') : ''","tickOpacity":{"condition":{"test":"datum.value % 1 !== 0","value":0},"value":1},"gridColor":{"condition":{"test":"datum.value % 1 !== 0","value":"#F6F6F6"},"value":"#FFFFFF"}}}},
"layer":[
{"data":{"name":"fits"},"transform":[{"filter":"datum.p==='i'"},{"fold":["f(GCV)","f(RECP)","f(BIC)"],"as":["curve","y"]}],"mark":{"type":"line","interpolate":"monotone","strokeWidth":2.3},"encoding":{"color":{"field":"curve","type":"nominal","scale":{"domain":["f(BIC)","f(GCV)","f(RECP)","Response values"],"range":["#F0503C","#8ECF63","#3D98DE","#000000"]},"legend":{"orient":"none","legendX":169,"legendY":15,"symbolType":"stroke","encode":{"symbols":{"update":{"shape":{"signal":"datum.value === 'Response values' ? 'circle' : 'stroke'"},"size":{"signal":"datum.value === 'Response values' ? 16 : 196"},"fill":{"signal":"datum.value === 'Response values' ? '#000000' : 'transparent'"},"strokeWidth":{"signal":"datum.value === 'Response values' ? 0 : 2.3"},"strokeDash":{"signal":"datum.value === 'f(GCV)' ? [6,4] : datum.value === 'f(RECP)' ? [2,3,6,3] : [1,0]"}}}}}},"strokeDash":{"field":"curve","type":"nominal","scale":{"domain":["f(BIC)","f(GCV)","f(RECP)"],"range":[[1,0],[6,4],[2,3,6,3]]},"legend":null}}},
{"data":{"name":"pts"},"transform":[{"filter":"datum.n===200"}],"mark":{"type":"circle","size":16,"opacity":1},"encoding":{"color":{"datum":"Response values"}}}
]}
],"resolve":{"scale":{"x":"independent","y":"independent","color":"independent","strokeDash":"independent"},"legend":{"color":"independent"}}}
],
"resolve":{"scale":{"x":"independent","y":"independent","color":"independent","strokeDash":"independent"},"legend":{"color":"independent"}},
"config":{
"font":"Liberation Sans",
"view":{"fill":"#EBEBEB","stroke":null},
"axis":{"domain":false,"gridWidth":1,"gridOpacity":1,"tickColor":"#333333","tickSize":3,"labelColor":"#4D4D4D","labelFontSize":8,"labelPadding":1,"titleFontSize":11,"titleFontWeight":"normal","titleColor":"#000000","titlePadding":3},
"axisY":{"titlePadding":4},
"title":{"fontSize":11.5,"fontWeight":"normal","anchor":"start","frame":"group","color":"#000000","offset":2},
"legend":{"title":null,"labelFontSize":8,"labelColor":"#1A1A1A","symbolSize":196,"rowPadding":5,"labelOffset":3,"symbolStrokeWidth":2.3}
}
}
